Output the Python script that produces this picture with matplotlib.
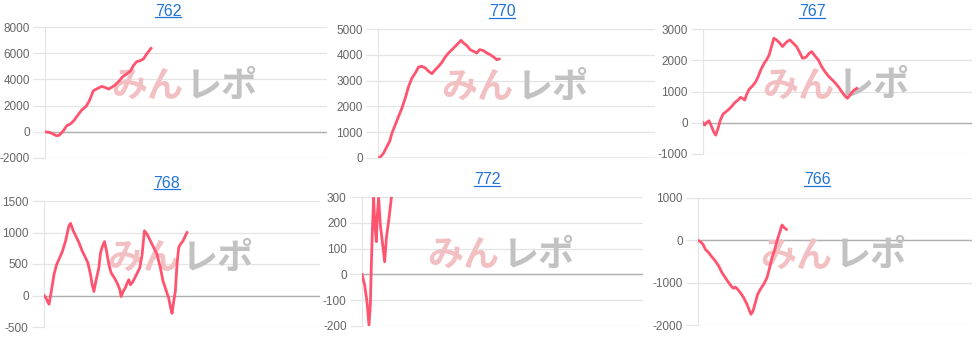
import matplotlib
matplotlib.use("Agg")
import matplotlib.pyplot as plt
import numpy as np
from matplotlib.lines import Line2D
from matplotlib.transforms import IdentityTransform

plt.rcParams['font.family'] = ['Liberation Sans', 'DejaVu Sans']
plt.rcParams['axes.unicode_minus'] = False

# machine numbers shown above each chart
titles = ["762", "770", "767", "768", "772", "766"]

# games played / coin difference
games_762 = [0, 142, 331, 407, 520, 615, 728, 823, 917, 1040, 1163, 1258, 1371, 1513, 1608,
             1702, 1797, 1891, 1986, 2109, 2203, 2317, 2430, 2506, 2600, 2695, 2790, 2884, 3007]
diff_762 = [0, -51, -306, -255, 76, 459, 611, 866, 1223, 1656, 1936, 2369, 3134, 3338, 3465,
            3389, 3261, 3389, 3567, 3898, 4204, 4408, 4662, 5045, 5350, 5427, 5554, 5936, 6369]

games_770 = [0, 67, 163, 260, 337, 404, 500, 596, 692, 788, 885, 981, 1077, 1173, 1269, 1365,
             1462, 1558, 1654, 1750, 1846, 1942, 2038, 2135, 2231, 2327, 2394, 2471, 2567, 2663,
             2760, 2856, 2933, 3029, 3144, 3240, 3337, 3433, 3500]
diff_770 = [0, 39, 194, 452, 646, 969, 1292, 1615, 1938, 2326, 2778, 3101, 3295, 3527, 3553, 3488,
            3359, 3269, 3424, 3553, 3708, 3915, 4070, 4199, 4328, 4457, 4561, 4457, 4354, 4199,
            4134, 4070, 4199, 4173, 4070, 4005, 3915, 3811, 3837]

games_767 = [0, 50, 99, 179, 248, 318, 378, 447, 517, 596, 745, 845, 944, 1043, 1113, 1193, 1242,
             1292, 1371, 1471, 1570, 1640, 1719, 1819, 1888, 1968, 2037, 2107, 2186, 2286, 2365,
             2435, 2505, 2584, 2683, 2783, 2862, 2962, 3061, 3160, 3230, 3329, 3429, 3528, 3627,
             3727, 3826, 3925, 4025, 4124, 4223, 4293, 4373, 4472, 4571]
diff_767 = [0, -75, 0, 64, -107, -289, -396, -182, 86, 278, 406, 513, 642, 727, 813, 770, 727,
            888, 1070, 1176, 1316, 1476, 1690, 1904, 2011, 2171, 2439, 2706, 2652, 2545, 2439,
            2524, 2599, 2652, 2545, 2439, 2278, 2064, 2096, 2225, 2278, 2139, 2011, 1797, 1636,
            1497, 1390, 1283, 1155, 995, 856, 781, 888, 1027, 1102]

games_768 = [0, 48, 145, 212, 289, 366, 463, 530, 626, 723, 771, 848, 944, 1012, 1108, 1205,
             1272, 1349, 1398, 1446, 1523, 1590, 1639, 1687, 1754, 1812, 1880, 1947, 2043, 2120,
             2198, 2236, 2294, 2362, 2410, 2458, 2506, 2583, 2680, 2776, 2844, 2911, 2988, 3085,
             3181, 3277, 3374, 3451, 3518, 3615, 3663, 3711, 3759, 3807, 3855, 3904, 3952, 4029,
             4096, 4145]
diff_768 = [0, -32, -139, 64, 332, 492, 610, 695, 866, 1107, 1144, 1027, 920, 840, 706, 599,
            519, 332, 171, 64, 278, 439, 679, 770, 856, 706, 492, 358, 278, 198,
            91, -16, 64, 128, 198, 251, 171, 225, 332, 439, 652, 1027, 973, 866,
            759, 652, 439, 225, 118, -43, -176, -283, -96, 64, 492, 759, 813, 866,
            947, 1000]

games_772 = [0, 76, 142, 199, 237, 266, 294, 332, 361, 408, 436, 474, 522, 579, 645, 693, 769, 835]
diff_772 = [0, -42, -106, -197, -119, 36, 166, 296, 205, 127, 231, 296, 192, 127, 49, 140, 218, 296]

games_766 = [0, 68, 146, 214, 311, 409, 506, 603, 701, 798, 895, 993, 1041, 1090, 1158, 1236,
             1333, 1430, 1508, 1547, 1606, 1674, 1742, 1820, 1917, 2015, 2092, 2161, 2229, 2306,
             2384, 2452, 2520, 2579]
diff_766 = [0, -31, -94, -213, -291, -394, -488, -606, -764, -882, -1000, -1102, -1134, -1102,
            -1157, -1236, -1354, -1512, -1669, -1748, -1669, -1472, -1276, -1157, -1039, -882,
            -646, -409, -252, -16, 181, 362, 299, 260]

series = [(games_762, diff_762), (games_770, diff_770), (games_767, diff_767),
          (games_768, diff_768), (games_772, diff_772), (games_766, diff_766)]

ylims = [(-2000, 8000), (0, 5000), (-1000, 3000), (-500, 1500), (-200, 300), (-2000, 1000)]
ysteps = [2000, 1000, 1000, 500, 100, 1000]
max_games = 8000

# layout in pixels: left, top, right, bottom of each plot area
W, H = 976, 337
boxes = [(45, 27, 327, 158), (378, 29, 655, 158), (703, 29, 972, 154),
         (44, 201, 320, 327), (362, 197, 643, 326), (698, 198, 972, 325)]
title_pos = [(168, 11), (502, 12), (812, 12), (167, 183), (487, 180), (817, 180)]

line_color = '#ff5470'
grid_color = '#e4e4e4'
link_color = '#1f74d6'

fig = plt.figure(figsize=(W / 100, H / 100), dpi=100)

title_texts = []
for i, (games, diff) in enumerate(series):
    l, t, r, b = boxes[i]
    ax = fig.add_axes([l / W, (H - b) / H, (r - l) / W, (b - t) / H])

    lo, hi = ylims[i]
    ax.set_ylim(lo, hi)
    ax.set_xlim(0, max_games)
    ax.set_yticks(np.arange(lo, hi + 1, ysteps[i]))
    ax.set_xticks([])

    ax.grid(axis='y', color=grid_color, lw=0.9)
    ax.set_axisbelow(True)
    ax.axhline(0, color='#b0b0b0', lw=1.0, zorder=1)
    for side in ['top', 'right', 'bottom']:
        ax.spines[side].set_visible(False)
    ax.spines['left'].set_color(grid_color)
    ax.tick_params(axis='y', length=9, width=0.9, color=grid_color,
                   labelcolor='#666666', labelsize=8.5, pad=2)

    # watermark
    ax.text(0.49, 0.545, "みん", transform=ax.transAxes, ha='right', va='center',
            fontsize=26, fontweight='bold', color='#f2c0c2',
            family=['Noto Sans CJK JP', 'DejaVu Sans'], zorder=2)
    ax.text(0.50, 0.545, "レポ", transform=ax.transAxes, ha='left', va='center',
            fontsize=26, fontweight='bold', color='#c2c2c2',
            family=['Noto Sans CJK JP', 'DejaVu Sans'], zorder=2)

    ax.plot(games, diff, color=line_color, lw=2.0, solid_joinstyle='round', zorder=3)

    tx, ty = title_pos[i]
    title_texts.append(fig.text(tx / W, (H - ty) / H, titles[i], ha='center', va='center',
                                fontsize=11.5, color=link_color))

# underline the titles like links
fig.canvas.draw()
for txt in title_texts:
    bb = txt.get_window_extent()
    fig.add_artist(Line2D([bb.x0, bb.x1], [bb.y0 + 1.5, bb.y0 + 1.5], transform=IdentityTransform(),
                          color=link_color, lw=0.9))

fig.savefig("out.png", dpi=100)
